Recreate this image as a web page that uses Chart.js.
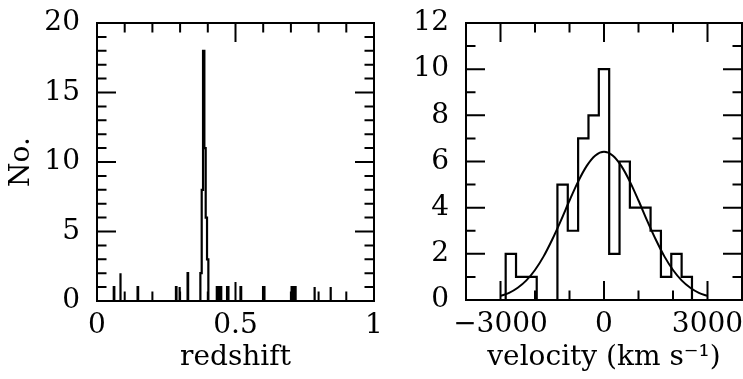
<!DOCTYPE html>
<html><head><meta charset="utf-8">
<script src="https://cdn.jsdelivr.net/npm/chart.js@4.4.1/dist/chart.umd.min.js"></script>
<style>
html,body{margin:0;padding:0;background:#fff;}
#wrap{position:relative;width:743px;height:379px;overflow:hidden;background:#fff;}
canvas{position:absolute;top:0;}
#c1{left:0;} #c2{left:390px;}
</style></head><body>
<div id="wrap"><canvas id="c1" width="390" height="379"></canvas><canvas id="c2" width="353" height="379"></canvas></div>
<script>
// ---------- Left panel: redshift histogram (count changes to zCounts[i] at zEdges[i]) ----------
const zEdges  = [0.0605,0.0625, 0.0835,0.0855, 0.1465,0.1485, 0.2850,0.2870, 0.2970,0.2990, 0.3270,0.3290,
                 0.3732,0.3780,0.3828,0.3876,0.3924,0.3972,0.4020,
                 0.4325,0.4385,0.4425,0.4485, 0.4695,0.4745, 0.5180,0.5205, 0.5995,0.6045,
                 0.7025,0.7090,0.7110,0.7170, 0.7840,0.7865, 0.8420,0.8445];
const zCounts = [1,0, 2,0, 1,0, 1,0, 1,0, 2,0,
                 2,8,18,11,6,3,0,
                 1,0,1,0, 1,0, 1,0, 1,0,
                 1,0,1,0, 1,0, 1,0];
const zTickLabels = [0, 0.5, 1];
const zMajorTicks = [0.5];
const zMinorTicks = [0.1,0.2,0.3,0.4,0.6,0.7,0.8,0.9];
const nTickLabels = [0, 5, 10, 15, 20];
const nMajorTicks = [5, 10, 15];
const nMinorTicks = [1,2,3,4,6,7,8,9,11,12,13,14,16,17,18,19];

// ---------- Right panel: velocity histogram ----------
const vBinEdges = [-2850,-2550,-2250,-1950,-1650,-1350,-1050,-750,-450,-150,150,450,750,1050,1350,1650,1950,2250,2550];
const vCounts   = [2,1,1,0,0,5,3,7,8,10,2,6,4,4,3,1,2,1];
const vCurveX = [-3000,-2750,-2500,-2250,-2000,-1750,-1500,-1250,-1000,-750,-500,-250,0,250,500,750,1000,1250,1500,1750,2000,2250,2500,2750,3000];
const vCurveY = [0.18,0.31,0.53,0.85,1.30,1.89,2.62,3.44,4.31,5.13,5.81,6.26,6.42,6.26,5.81,5.13,4.31,3.44,2.62,1.89,1.30,0.85,0.53,0.31,0.18];
const vTickLabels = [-3000, 0, 3000];
const vMajorTicks = [-3000, 0, 3000];
const vMinorTicks = [-2000, -1000, 1000, 2000];
const cTickLabels = [0,2,4,6,8,10,12];
const cMajorTicks = [2,4,6,8,10];
const cMinorTicks = [1,3,5,7,9,11];

// ---------- helpers ----------
function stepFromChanges(edges, counts) {
  const pts = []; let prev = 0;
  for (let i = 0; i < edges.length; i++) {
    pts.push({x: edges[i], y: prev});
    pts.push({x: edges[i], y: counts[i]});
    prev = counts[i];
  }
  return pts;
}
function stepFromBins(edges, counts) {
  return stepFromChanges(edges, counts.concat([0]));
}
const FONT = 'DejaVu Serif';
const framePlugin = {
  id: 'frame',
  afterDatasetsDraw(chart, args, o) {
    const {ctx, chartArea: a, scales: {x, y}} = chart;
    ctx.save();
    ctx.strokeStyle = '#000'; ctx.lineWidth = 2; ctx.lineCap = 'butt';
    ctx.beginPath();
    const xt = (vals, len) => vals.forEach(v => { const p = x.getPixelForValue(v);
      ctx.moveTo(p, a.bottom); ctx.lineTo(p, a.bottom - len); ctx.moveTo(p, a.top); ctx.lineTo(p, a.top + len); });
    const yt = (vals, len) => vals.forEach(v => { const p = y.getPixelForValue(v);
      ctx.moveTo(a.left, p); ctx.lineTo(a.left + len, p); ctx.moveTo(a.right, p); ctx.lineTo(a.right - len, p); });
    xt(o.xMinor, 9.5); xt(o.xMajor, 19); yt(o.yMinor, 9.5); yt(o.yMajor, 19);
    ctx.stroke();
    ctx.strokeRect(a.left, a.top, a.right - a.left, a.bottom - a.top);
    ctx.restore();
  }
};
function axis(min, max, labels, fmt, title, fitSize, horiz, pad, tpad) {
  return {
    type: 'linear', min, max,
    grid: {display: false, drawTicks: false}, border: {display: false},
    ticks: {color: '#000', font: {family: FONT, size: 28}, padding: pad, callback: fmt, maxRotation: 0, autoSkip: false},
    afterBuildTicks: s => { s.ticks = labels.map(v => ({value: v})); },
    afterFit: s => { if (horiz) s.height = fitSize; else s.width = fitSize;
      s.paddingLeft = 0; s.paddingRight = 0; s.paddingTop = 0; s.paddingBottom = 0; },
    title: {display: !!title, text: title, color: '#000', font: {family: FONT, size: 28}, padding: tpad}
  };
}
const base = {
  responsive: false, animation: false, devicePixelRatio: 1,
  plugins: {legend: {display: false}, tooltip: {enabled: false}},
  elements: {point: {radius: 0}}
};

new Chart(document.getElementById('c1'), {
  type: 'line',
  data: {datasets: [{data: stepFromChanges(zEdges, zCounts), borderColor: '#000', borderWidth: 2.2, fill: false, tension: 0}]},
  options: Object.assign({}, base, {
    layout: {padding: {top: 23, right: 16, left: 0, bottom: 0}},
    plugins: Object.assign({}, base.plugins, {frame: {xMinor: zMinorTicks, xMajor: zMajorTicks, yMinor: nMinorTicks, yMajor: nMajorTicks}}),
    scales: {
      x: axis(0, 1, zTickLabels, v => String(v), 'redshift', 78, true, 8, {top: 0, bottom: 4}),
      y: axis(0, 20, nTickLabels, v => String(v), 'No.', 97, false, 17, {top: 5, bottom: 0})
    }
  }),
  plugins: [framePlugin]
});

new Chart(document.getElementById('c2'), {
  type: 'line',
  data: {datasets: [
    {data: stepFromBins(vBinEdges, vCounts), borderColor: '#000', borderWidth: 2.2, fill: false, tension: 0},
    {data: vCurveX.map((v, i) => ({x: v, y: vCurveY[i]})), borderColor: '#000', borderWidth: 2, fill: false, cubicInterpolationMode: 'monotone'}
  ]},
  options: Object.assign({}, base, {
    layout: {padding: {top: 23, right: 1, left: 0, bottom: 0}},
    plugins: Object.assign({}, base.plugins, {frame: {xMinor: vMinorTicks, xMajor: vMajorTicks, yMinor: cMinorTicks, yMajor: cMajorTicks}}),
    scales: {
      x: axis(-4000, 4000, vTickLabels, v => (v < 0 ? '\u2212' + Math.abs(v) : String(v)), 'velocity (km s\u207B\u00B9)', 79, true, 8, {top: 0, bottom: 4}),
      y: axis(0, 12, cTickLabels, v => String(v), '', 76, false, 17, 0)
    }
  }),
  plugins: [framePlugin]
});
</script>
</body></html>
